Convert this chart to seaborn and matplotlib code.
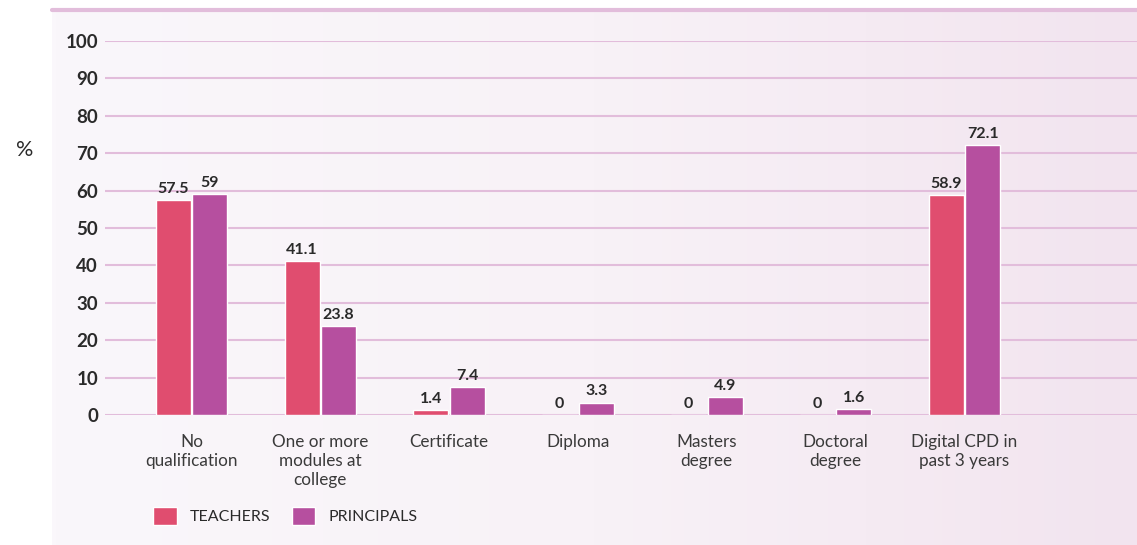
import numpy as np
import pandas as pd
import matplotlib
matplotlib.use("Agg")
import matplotlib.pyplot as plt
from matplotlib.colors import LinearSegmentedColormap
import seaborn as sns

# Chart data
categories = ["No\nqualification", "One or more\nmodules at\ncollege", "Certificate",
              "Diploma", "Masters\ndegree", "Doctoral\ndegree", "Digital CPD in\npast 3 years"]
teachers = [57.5, 41.1, 1.4, 0, 0, 0, 58.9]
principals = [59, 23.8, 7.4, 3.3, 4.9, 1.6, 72.1]
series_names = ["TEACHERS", "PRINCIPALS"]
y_ticks = [0, 10, 20, 30, 40, 50, 60, 70, 80, 90, 100]

df = pd.DataFrame({
    "category": categories * 2,
    "group": [series_names[0]] * len(categories) + [series_names[1]] * len(categories),
    "value": teachers + principals,
})

sns.set_theme(style="white")
plt.rcParams["font.family"] = ["Lato", "DejaVu Sans"]

TEXT = "#2a2a2a"
GRID = "#e2bddb"
palette = {"TEACHERS": "#e04d6f", "PRINCIPALS": "#b64f9f"}

W, H = 1137, 545
fig = plt.figure(figsize=(W / 100, H / 100), dpi=100)
fig.patch.set_facecolor("white")

# Soft gradient panel behind the chart
bg = fig.add_axes([52 / W, 0, 1 - 52 / W, (H - 10) / H])
grad = np.linspace(0, 1, 256).reshape(1, -1)
cmap = LinearSegmentedColormap.from_list("panel", ["#faf7fb", "#f8f2f7", "#f2e4ef"])
bg.imshow(grad, aspect="auto", cmap=cmap, extent=[0, 1, 0, 1])
bg.set_axis_off()
# pink rule across the top of the panel
fig.add_artist(plt.Line2D([52 / W, 1], [(H - 10) / H, (H - 10) / H],
                          color="#e2bddb", lw=3, transform=fig.transFigure))

ax = fig.add_axes([105 / W, 130 / H, 1 - 105 / W, (415 - 41) / H])
ax.patch.set_alpha(0)

sns.barplot(data=df, x="category", y="value", hue="group", order=categories,
            hue_order=series_names, palette=palette, width=0.567, gap=0.04,
            saturation=1, ax=ax, legend=True)

ax.set_ylim(0, 100)
ax.set_xlim(-0.672, 7.34)
ax.set_yticks(y_ticks)
ax.set_yticklabels([str(t) for t in y_ticks], fontsize=13.5, fontweight="bold", color=TEXT)
ax.tick_params(axis="y", length=0, pad=5)
ax.tick_params(axis="x", length=0, pad=14)
for lbl in ax.get_xticklabels():
    lbl.set_fontsize(12.3)
    lbl.set_color("#3a3a3a")
    lbl.set_linespacing(1.2)
    lbl.set_verticalalignment("top")
ax.yaxis.grid(True, color=GRID, lw=1.5)
ax.set_axisbelow(True)
for s in ax.spines.values():
    s.set_visible(False)
ax.set_xlabel("")
ax.set_ylabel("")

for cont in ax.containers:
    ax.bar_label(cont, fmt="{:g}", padding=3, fontsize=11.5, fontweight="bold", color=TEXT)

fig.text(25 / W, 1 - 150 / H, "%", fontsize=15.5, color=TEXT, ha="center", va="center")

handles, labels = ax.get_legend_handles_labels()
ax.get_legend().remove()
fig.legend(handles, labels, loc="center left", bbox_to_anchor=(147 / W, 1 - 516 / H),
           ncol=2, frameon=False, fontsize=11.5, handlelength=1.45, handleheight=1.45,
           handletextpad=0.8, columnspacing=1.4, labelcolor=TEXT, borderaxespad=0)

fig.savefig("out.png", dpi=100)
